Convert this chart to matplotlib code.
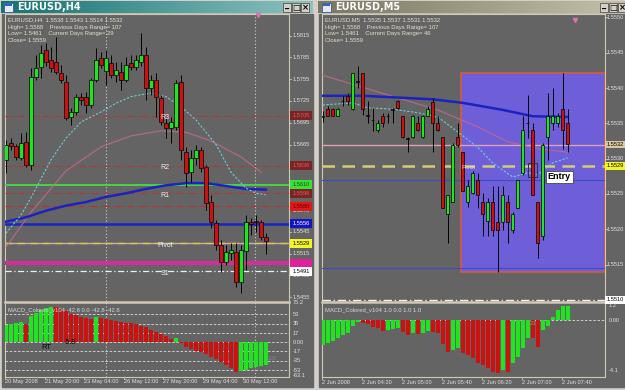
import matplotlib
matplotlib.use("Agg")
import matplotlib.pyplot as plt
from matplotlib.patches import Rectangle
from matplotlib.colors import LinearSegmentedColormap
import numpy as np

# ---------------- data : left window EURUSD H4 ----------------
h4_open = [1.5644, 1.5667, 1.5663, 1.5647, 1.5669, 1.5637, 1.5758, 1.5772, 1.5795, 1.5781,
           1.5779, 1.5764, 1.5751, 1.5703, 1.5710, 1.5731, 1.5731, 1.5720, 1.5754, 1.5784,
           1.5766, 1.5777, 1.5761, 1.5765, 1.5754, 1.5777, 1.5772, 1.5779, 1.5788, 1.5743,
           1.5754, 1.5729, 1.5695, 1.5688, 1.5689, 1.5751, 1.5655, 1.5627, 1.5647, 1.5658,
           1.5634, 1.5586, 1.5557, 1.5527, 1.5503, 1.5516, 1.5517, 1.5476, 1.5519, 1.5558,
           1.5560, 1.5559, 1.5538]
h4_high = [1.5671, 1.5674, 1.5666, 1.5681, 1.5682, 1.5770, 1.5788, 1.5802, 1.5805, 1.5799,
           1.5813, 1.5775, 1.5761, 1.5715, 1.5735, 1.5736, 1.5737, 1.5757, 1.5798, 1.5792,
           1.5795, 1.5788, 1.5779, 1.5779, 1.5786, 1.5788, 1.5788, 1.5819, 1.5799, 1.5761,
           1.5764, 1.5733, 1.5702, 1.5703, 1.5754, 1.5761, 1.5662, 1.5658, 1.5664, 1.5662,
           1.5637, 1.5596, 1.5561, 1.5534, 1.5527, 1.5530, 1.5530, 1.5527, 1.5568, 1.5564,
           1.5568, 1.5561, 1.5543]
h4_low = [1.5626, 1.5657, 1.5644, 1.5644, 1.5634, 1.5630, 1.5754, 1.5757, 1.5773, 1.5765,
          1.5762, 1.5750, 1.5699, 1.5692, 1.5706, 1.5720, 1.5709, 1.5715, 1.5751, 1.5770,
          1.5747, 1.5757, 1.5751, 1.5740, 1.5751, 1.5768, 1.5768, 1.5773, 1.5726, 1.5733,
          1.5703, 1.5692, 1.5674, 1.5667, 1.5685, 1.5644, 1.5607, 1.5614, 1.5637, 1.5627,
          1.5575, 1.5550, 1.5520, 1.5490, 1.5499, 1.5506, 1.5469, 1.5461, 1.5493, 1.5541,
          1.5545, 1.5534, 1.5514]
h4_close = [1.5664, 1.5663, 1.5648, 1.5667, 1.5637, 1.5758, 1.5770, 1.5791, 1.5779, 1.5770,
            1.5765, 1.5754, 1.5702, 1.5710, 1.5731, 1.5727, 1.5720, 1.5754, 1.5781, 1.5775,
            1.5784, 1.5761, 1.5768, 1.5754, 1.5775, 1.5772, 1.5781, 1.5788, 1.5743, 1.5754,
            1.5731, 1.5696, 1.5688, 1.5696, 1.5750, 1.5658, 1.5626, 1.5647, 1.5658, 1.5633,
            1.5585, 1.5559, 1.5527, 1.5503, 1.5517, 1.5520, 1.5476, 1.5520, 1.5559, 1.5556,
            1.5558, 1.5538, 1.5532]

h4_ma_slow_idx = [0, 4, 8, 12, 16, 20, 24, 28, 32, 36, 40, 44, 48, 52]
h4_ma_slow = [1.5559, 1.5565, 1.5574, 1.5581, 1.5586, 1.5593, 1.5598, 1.5604, 1.5609,
              1.5612, 1.5612, 1.5608, 1.5604, 1.5603]
h4_ma_fast_idx = [0, 3, 5, 9, 12, 15, 19, 22, 25, 29, 32, 35, 38, 42, 45, 48, 50, 52]
h4_ma_fast = [1.5543, 1.5568, 1.5592, 1.5644, 1.5674, 1.5696, 1.5710, 1.5722, 1.5731,
              1.5736, 1.5731, 1.5717, 1.5699, 1.5665, 1.5627, 1.5605, 1.5598, 1.5596]
h4_ma_mid_idx = [0, 5, 12, 19, 25, 31, 36, 41, 47, 51]
h4_ma_mid = [1.5524, 1.5572, 1.5629, 1.5662, 1.5677, 1.5684, 1.5682, 1.5670, 1.5648, 1.5627]

h4_levels = [1.5705, 1.5636, 1.5610, 1.5598, 1.5580, 1.5556, 1.5529, 1.5502, 1.5491]
h4_level_names = ["R3", "R2", None, "R1", None, None, "Pivot", None, "S1"]
h4_price_ticks = [1.5815, 1.5785, 1.5755, 1.5725, 1.5695, 1.5665, 1.5575, 1.5545, 1.5515, 1.5485, 1.5455]
h4_day_sep_idx = [20, 49.8]

h4_macd = [33, 35, 37, 38, 35, 50, 56, 60, 64, 67, 66, 63, 59, 54, 51, 48, 45, 44, 47, 45,
           43, 42, 41, 39, 37, 36, 34, 31, 28, 24, 20, 16, 11, 6, 8, -1, -8, -13, -16, -19,
           -23, -28, -32, -38, -43, -49, -56, -55, -52, -49, -46, -44, -42.8]
h4_macd_up = [1, 1, 1, 1, 0, 1, 1, 1, 1, 1, 0, 0, 0, 0, 0, 0, 0, 0, 1, 0,
              0, 0, 0, 0, 0, 0, 0, 0, 0, 0, 0, 0, 0, 0, 1, 0, 0, 0, 0, 0,
              0, 0, 0, 0, 0, 0, 0, 1, 1, 1, 1, 1, 1]
h4_macd_ticks = [75.2, 53, 35, 17, 0.0, -17, -35, -53, -63.1]
h4_macd_tick_labels = ["75.2", "53", "35", "17", "0.00", "-17", "-35", "-53", "-63.1"]
h4_dates = ["20 May 2008", "21 May 20:00", "23 May 04:00", "26 May 12:00",
            "27 May 20:00", "29 May 04:00", "30 May 12:00"]
h4_date_idx = [-0.2, 7.8, 15.6, 23.6, 31.4, 39.4, 47.4]

# ---------------- data : right window EURUSD M5 ----------------
m5_open = [1.55359, 1.55370, 1.55370, 1.55361, 1.55382, 1.55389, 1.55370, 1.55410, 1.55421, 1.55362,
           1.55355, 1.55340, 1.55360, 1.55361, 1.55370, 1.55381, 1.55360, 1.55329, 1.55330, 1.55350,
           1.55330, 1.55361, 1.55380, 1.55350, 1.55330, 1.55221, 1.55239, 1.55330, 1.55310, 1.55239,
           1.55251, 1.55270, 1.55239, 1.55211, 1.55239, 1.55210, 1.55210, 1.55239, 1.55199, 1.55230,
           1.55280, 1.55351, 1.55340, 1.55239, 1.55190, 1.55330, 1.55350, 1.55350, 1.55370, 1.55350]
m5_high = [1.55368, 1.55374, 1.55372, 1.55372, 1.55388, 1.55393, 1.55421, 1.55431, 1.55421, 1.55381,
           1.55372, 1.55355, 1.55365, 1.55365, 1.55372, 1.55383, 1.55360, 1.55331, 1.55362, 1.55360,
           1.55362, 1.55374, 1.55386, 1.55360, 1.55330, 1.55249, 1.55322, 1.55350, 1.55310, 1.55270,
           1.55282, 1.55280, 1.55251, 1.55244, 1.55261, 1.55261, 1.55261, 1.55249, 1.55225, 1.55270,
           1.55360, 1.55390, 1.55350, 1.55239, 1.55322, 1.55393, 1.55400, 1.55365, 1.55421, 1.55370]
m5_low = [1.55352, 1.55360, 1.55360, 1.55360, 1.55374, 1.55376, 1.55369, 1.55400, 1.55362, 1.55350,
          1.55339, 1.55338, 1.55345, 1.55350, 1.55350, 1.55370, 1.55329, 1.55310, 1.55329, 1.55339,
          1.55329, 1.55360, 1.55310, 1.55339, 1.55230, 1.55180, 1.55239, 1.55317, 1.55254, 1.55232,
          1.55250, 1.55230, 1.55190, 1.55190, 1.55190, 1.55140, 1.55199, 1.55180, 1.55195, 1.55230,
          1.55277, 1.55329, 1.55249, 1.55159, 1.55185, 1.55298, 1.55341, 1.55345, 1.55313, 1.55310]
m5_close = [1.55360, 1.55361, 1.55361, 1.55370, 1.55381, 1.55381, 1.55421, 1.55409, 1.55370, 1.55361,
            1.55354, 1.55350, 1.55350, 1.55360, 1.55369, 1.55372, 1.55330, 1.55328, 1.55360, 1.55340,
            1.55360, 1.55370, 1.55350, 1.55340, 1.55230, 1.55249, 1.55320, 1.55320, 1.55254, 1.55261,
            1.55280, 1.55249, 1.55221, 1.55239, 1.55199, 1.55199, 1.55249, 1.55210, 1.55221, 1.55270,
            1.55340, 1.55350, 1.55249, 1.55180, 1.55320, 1.55360, 1.55360, 1.55360, 1.55340, 1.55321]

m5_ma_slow_idx = [0, 8, 22, 28, 36, 42, 49]
m5_ma_slow = [1.55389, 1.55389, 1.55384, 1.55379, 1.55369, 1.55360, 1.55359]
m5_ma_fast_idx = [0, 6, 9, 14, 19, 23, 27, 31, 34, 38, 41, 43, 46, 49]
m5_ma_fast = [1.55376, 1.55379, 1.55372, 1.55370, 1.55365, 1.55359, 1.55338, 1.55316,
              1.55294, 1.55274, 1.55280, 1.55277, 1.55294, 1.55301]
m5_ma_mid_idx = [0, 23, 31, 37, 43, 49]
m5_ma_mid = [1.55418, 1.55369, 1.55345, 1.55324, 1.55314, 1.55309]

m5_price_ticks = [1.5550, 1.5545, 1.5540, 1.5535, 1.5530, 1.5525, 1.5520, 1.5515]
m5_current = 1.5532
m5_pivot = 1.5529
m5_blue_levels = [1.55270, 1.55145]
m5_bottom_level = 1.5510
m5_box_idx = [27.6, 56.5]
m5_box_price = [1.55139, 1.55421]
m5_entry_idx = 45.0
m5_entry_price = 1.55274

m5_macd = [-2.05, -1.86, -1.69, -1.50, -1.23, -1.04, -0.49, -0.14, -0.22, -0.36,
           -0.55, -0.68, -0.87, -0.82, -0.77, -0.68, -0.96, -1.23, -1.09, -1.17,
           -1.09, -0.87, -0.96, -1.04, -1.97, -2.60, -2.46, -2.32, -2.68, -2.87,
           -3.14, -3.50, -3.69, -3.96, -4.23, -4.37, -4.10, -4.23, -3.55, -3.00,
           -2.32, -1.50, -1.50, -2.24, -0.82, -0.49, 0.27, 0.82, 1.15, 1.15]
m5_macd_up = [1, 1, 1, 1, 1, 1, 1, 1, 0, 0, 0, 0, 0, 1, 1, 1, 0, 0, 1, 0,
              1, 1, 0, 0, 0, 0, 1, 1, 0, 0, 0, 0, 0, 0, 0, 0, 1, 0, 1, 1,
              1, 1, 0, 0, 1, 1, 1, 1, 1, 1]
m5_dates = ["2 Jun 2008", "2 Jun 04:20", "2 Jun 05:00", "2 Jun 05:40",
            "2 Jun 06:20", "2 Jun 07:00", "2 Jun 07:40"]
m5_date_idx = [-0.1, 7.9, 15.9, 23.9, 31.9, 39.9, 47.9]

# ---------------- styling ----------------
W, H = 625, 390
BG = "#646464"
FRAME = "#d4d0c8"
BORDER = "#cfc9b4"
TXT = "#e2e2e2"
GREEN = "#22e322"
RED = "#cc1111"
FONT = "Liberation Sans"
FS_AX = 4.1   # axis label size
FS_HDR = 4.2

fig = plt.figure(figsize=(W / 100, H / 100), dpi=100)
fig.patch.set_facecolor(FRAME)


def add_px_axes(x0, y0, x1, y1, z=1):
    a = fig.add_axes([x0 / W, 1 - y1 / H, (x1 - x0) / W, (y1 - y0) / H])
    a.set_zorder(z)
    a.patch.set_alpha(0)
    a.axis("off")
    return a


base = add_px_axes(0, 0, W, H, z=0)


def rect(ax, x0, y0, x1, y1, **kw):
    ax.add_patch(Rectangle((x0, y0), x1 - x0, y1 - y0, **kw))


# window bodies
rect(base, 2, 14, 313, 387, color=BG)
rect(base, 319, 14, 626, 387, color=BG)
# title bars
grad = np.linspace(0, 1, 256).reshape(1, -1)
cm_l = LinearSegmentedColormap.from_list("l", ["#147272", "#8cc2c2"])
cm_r = LinearSegmentedColormap.from_list("r", ["#7a7662", "#c4c0ac"])
base.imshow(grad, cmap=cm_l, extent=(1, 313, 13, 1), aspect="auto", zorder=1)
base.imshow(grad, cmap=cm_r, extent=(318, 626, 13, 1), aspect="auto", zorder=1)
base.set_xlim(0, W)
base.set_ylim(H, 0)

for tx, title in [(17, "EURUSD,H4"), (335, "EURUSD,M5")]:
    base.text(tx, 7.5, title, color="white", fontsize=7, fontweight="bold",
              family="DejaVu Sans", va="center", ha="left", zorder=3)
    rect(base, tx - 13, 3, tx - 4, 12, facecolor="#e8e8f0", edgecolor="#3060a0", lw=0.6, zorder=3)
    rect(base, tx - 12, 4, tx - 5, 6, facecolor="#3060c0", zorder=4)

for bx in [283, 600]:
    for k, g in enumerate(["_", "\u25a1", "\u00d7"]):
        x0 = bx + 9 * k
        rect(base, x0, 3, x0 + 8, 12, facecolor=FRAME, edgecolor="#404040", lw=0.5, zorder=3)
        base.text(x0 + 4, 7.8 if g != "_" else 6.0, g, fontsize=6,
                  ha="center", va="center", color="black", fontweight="bold", zorder=4)

# chart frames
for (x0, x1) in [(5, 289), (322, 605)]:
    base.plot([x0, x0, x1, x1, x0], [14, 377, 377, 14, 14], color=BORDER, lw=0.8, zorder=2)
    base.plot([x0, x1], [301.5, 301.5], color=BORDER, lw=1.8, zorder=2)


def candles(ax, o, h, l, c, width=0.62):
    x = np.arange(len(o))
    o, h, l, c = map(np.asarray, (o, h, l, c))
    ax.vlines(x, l, h, color="black", lw=0.7, zorder=5)
    up = c >= o
    bottom = np.minimum(o, c)
    height = np.abs(c - o)
    height = np.where(height < 1e-6, 1e-6, height)
    cols = np.where(up, GREEN, RED)
    ax.bar(x, height, bottom=bottom, width=width, color=cols, edgecolor="black",
           linewidth=0.5, zorder=6)


# ---------------- left main chart ----------------
axL = add_px_axes(5, 14, 289, 301, z=2)
axL.set_xlim(-0.2, 56.6)
axL.set_ylim(1.54498, 1.58447)

for xs in h4_day_sep_idx:
    axL.axvline(xs, color="#cfcfcf", lw=0.8, ls=(0, (1, 2)), zorder=1)

level_styles = [
    dict(color="#a83a3a", lw=0.8, ls=(0, (6, 2, 1, 2))),
    dict(color="#a83a3a", lw=0.8, ls=(0, (6, 2, 1, 2))),
    dict(color="#44dd44", lw=1.3, ls="-"),
    dict(color="#a83a3a", lw=0.8, ls=(0, (6, 2, 1, 2))),
    dict(color="#b83030", lw=0.8, ls=(0, (6, 2, 1, 2))),
    dict(color="#1428c8", lw=1.8, ls="-"),
    dict(color="#d8a8a8", lw=1.0, ls="-"),
    dict(color="#d0309a", lw=3.0, ls="-"),
    dict(color="#eeeeee", lw=0.9, ls=(0, (5, 2, 1, 2))),
]
for lev, st in zip(h4_levels, level_styles):
    axL.axhline(lev, zorder=2, **st)
axL.axhline(h4_levels[6], color="#d6c850", lw=1.0, ls=(0, (5, 4)), zorder=2)

axL.plot(h4_ma_mid_idx, h4_ma_mid, color="#c46a8c", lw=0.9, alpha=0.8, zorder=3)
axL.plot(h4_ma_slow_idx, h4_ma_slow, color="#1a22c0", lw=1.8, zorder=4)
axL.plot(h4_ma_fast_idx, h4_ma_fast, color="#6ad0d8", lw=0.8, ls=(0, (2, 1.5)), zorder=4)

candles(axL, h4_open, h4_high, h4_low, h4_close)

for lev, name in zip(h4_levels, h4_level_names):
    if name:
        axL.text(31.8, lev - 0.0003, name, color="#f0f0f0", fontsize=5, family=FONT,
                 ha="center", va="center", zorder=7)

tr = axL.get_yaxis_transform()
for p in h4_price_ticks:
    axL.text(1.012, p, f"{p:.4f}", transform=tr, fontsize=FS_AX, family=FONT, color=TXT,
             va="center", ha="left", clip_on=False)
    axL.plot([1.0, 1.008], [p, p], transform=tr, color=BORDER, lw=0.6, clip_on=False)

box_styles = [("#7a2424", "#e06060"), ("#7a2424", "#e06060"), ("#38e038", "#105010"),
              ("#7a2424", "#e06060"), ("#e01818", "#600000"), ("#1414c0", "#ffffff"),
              ("#f4f428", "#000000"), ("#e0209c", "#e0209c"), ("#ffffff", "#000000")]
for lev, (bg, fg) in zip(h4_levels, box_styles):
    axL.text(1.012, lev, f"{lev:.4f}", transform=tr, fontsize=FS_AX, family=FONT, color=fg,
             va="center", ha="left", clip_on=False, zorder=8,
             bbox=dict(boxstyle="square,pad=0.35", fc=bg, ec="none"))

hdr = ["EURUSD,H4  1.5538 1.5543 1.5514 1.5532",
       "High= 1.5568    Previous Days Range= 107",
       "Low= 1.5461    Current Days Range= 29",
       "Close= 1.5559"]
for k, s in enumerate(hdr):
    base.text(8, 20 + 7 * k, s, fontsize=FS_HDR, family=FONT, color="#e4e0cc", va="center", zorder=5)
axL.plot([50.4], [1.5843], marker="v", color="#e070b0", ms=3, clip_on=False, zorder=8)

# ---------------- left MACD ----------------
axLM = add_px_axes(5, 302, 289, 377, z=2)
axLM.set_xlim(-0.2, 56.6)
axLM.set_ylim(-65.5, 76)
for v in [53, 35, 17, 0, -17, -35, -53]:
    axLM.axhline(v, color="#dcdcdc", lw=0.6, ls=(0, (3, 2)), zorder=1)
for xs in h4_day_sep_idx:
    axLM.axvline(xs, color="#cfcfcf", lw=0.8, ls=(0, (1, 2)), zorder=1)
axLM.bar(np.arange(len(h4_macd)), h4_macd, width=0.8,
         color=[GREEN if u else RED for u in h4_macd_up], zorder=3)
trm = axLM.get_yaxis_transform()
for v, lab in zip(h4_macd_ticks, h4_macd_tick_labels):
    axLM.text(1.012, v, lab, transform=trm, fontsize=FS_AX, family=FONT, color=TXT,
              va="center", ha="left", clip_on=False)
axLM.text(0.01, 0.9, "MACD_Colored_v104 -42.8 0.0 -42.8 -42.8", transform=axLM.transAxes,
          fontsize=FS_HDR, family=FONT, color="#d8d8d8", va="center", zorder=6)
axLM.text(8.0, -9, "RT", fontsize=5.5, family=FONT, color="black", ha="center", va="center", zorder=6)
axLM.text(12.8, 0.5, "-5.8", fontsize=5, family=FONT, color="black", ha="center", va="center", zorder=6)
axLM.text(53.2, -30, "1.0", fontsize=4.5, family=FONT, color="#8a8a8a", ha="center", va="center", zorder=6)
for lab, xi in zip(h4_dates, h4_date_idx):
    px = 6 + 5 * xi
    base.text(px, 382, lab, fontsize=FS_AX, family=FONT, color=TXT, ha="left", va="center", zorder=5)
    base.plot([px, px], [377, 379], color=BORDER, lw=0.6, zorder=5)

# ---------------- right main chart ----------------
axR = add_px_axes(322, 14, 605, 300, z=2)
axR.set_xlim(-0.14, 56.46)
axR.set_ylim(1.550998, 1.555048)

axR.add_patch(Rectangle((m5_box_idx[0], m5_box_price[0]), m5_box_idx[1] - m5_box_idx[0],
                        m5_box_price[1] - m5_box_price[0], facecolor="#6e5ed8",
                        edgecolor="#d85a40", lw=1.2, zorder=1))
for lev in m5_blue_levels:
    axR.axhline(lev, color="#3a4cc8", lw=0.8, zorder=2)
axR.axhline(m5_current, color="#e0a0b4", lw=1.0, zorder=2)
axR.axhline(m5_pivot, color="#d6cc78", lw=1.8, ls=(0, (5, 3)), zorder=2)
axR.axhline(m5_bottom_level, color="#f0f0f0", lw=1.0, ls=(0, (6, 2, 1, 2)), zorder=2, clip_on=False)

axR.plot(m5_ma_mid_idx, m5_ma_mid, color="#c46a8c", lw=0.9, alpha=0.8, zorder=3)
axR.plot(m5_ma_slow_idx, m5_ma_slow, color="#1a22c0", lw=1.8, zorder=4)
axR.plot(m5_ma_fast_idx, m5_ma_fast, color="#6ad0d8", lw=0.8, ls=(0, (2, 1.5)), zorder=4)

candles(axR, m5_open, m5_high, m5_low, m5_close)

axR.add_patch(Rectangle((41.1, 1.55274), 1.8, 0.0002, facecolor="none", edgecolor="#303030",
                        lw=0.7, zorder=7))
axR.text(m5_entry_idx, m5_entry_price, "Entry", fontsize=6.5, fontweight="bold", family=FONT,
         color="black", ha="left", va="center", zorder=8,
         bbox=dict(boxstyle="square,pad=0.2", fc="white", ec="#303030", lw=0.5))
axR.text(27.7, 1.55287, "Pivot", fontsize=4.5, family=FONT, color="#e0e0e0",
         ha="left", va="center", zorder=7)

trr = axR.get_yaxis_transform()
for p in m5_price_ticks:
    axR.text(1.006, p, f"{p:.4f}", transform=trr, fontsize=FS_AX, family=FONT, color=TXT,
             va="center", ha="left", clip_on=False)
    axR.plot([1.0, 1.006], [p, p], transform=trr, color=BORDER, lw=0.6, clip_on=False)
for lev, bg in [(m5_current, "#dcc8a0"), (m5_pivot, "#f4f428"), (m5_bottom_level, "#ffffff")]:
    axR.text(1.006, lev, f"{lev:.4f}", transform=trr, fontsize=FS_AX, family=FONT, color="black",
             va="center", ha="left", clip_on=False, zorder=8,
             bbox=dict(boxstyle="square,pad=0.25", fc=bg, ec="none"))

hdr_r = ["EURUSD,M5  1.5535 1.5537 1.5531 1.5532",
         "High= 1.5568    Previous Days Range= 107",
         "Low= 1.5461    Current Days Range= 46",
         "Close= 1.5559"]
for k, s in enumerate(hdr_r):
    base.text(325, 20 + 7 * k, s, fontsize=FS_HDR, family=FONT, color="#e4e0cc", va="center", zorder=5)
axR.plot([50.5], [1.55497], marker="v", color="#e070b0", ms=3, clip_on=False, zorder=8)

# ---------------- right MACD ----------------
axRM = add_px_axes(322, 302, 605, 377, z=2)
axRM.set_xlim(-0.14, 56.46)
axRM.set_ylim(-4.67, 1.475)
axRM.axhline(0, color="#dcdcdc", lw=0.6, ls=(0, (3, 2)), zorder=1)
axRM.bar(np.arange(len(m5_macd)), m5_macd, width=0.8,
         color=[GREEN if u else RED for u in m5_macd_up], zorder=3)
trrm = axRM.get_yaxis_transform()
for v, lab in [(1.2, "1.2"), (0.0, "0.00"), (-4.1, "-4.1")]:
    axRM.text(1.012, v, lab, transform=trrm, fontsize=FS_AX, family=FONT, color=TXT,
              va="center", ha="left", clip_on=False)
axRM.text(0.01, 0.9, "MACD_Colored_v104 1.0 0.0 1.0 1.0", transform=axRM.transAxes,
          fontsize=FS_HDR, family=FONT, color="#d8d8d8", va="center", zorder=6)
axRM.text(42.1, -0.3, "21", fontsize=4.5, family=FONT, color="#8a8a8a", ha="center", va="center", zorder=6)
for lab, xi in zip(m5_dates, m5_date_idx):
    px = 322.7 + 5 * xi
    base.text(px, 382, lab, fontsize=FS_AX, family=FONT, color=TXT, ha="left", va="center", zorder=5)
    base.plot([px, px], [377, 379], color=BORDER, lw=0.6, zorder=5)

fig.savefig("out.png", dpi=100, facecolor=fig.get_facecolor())
